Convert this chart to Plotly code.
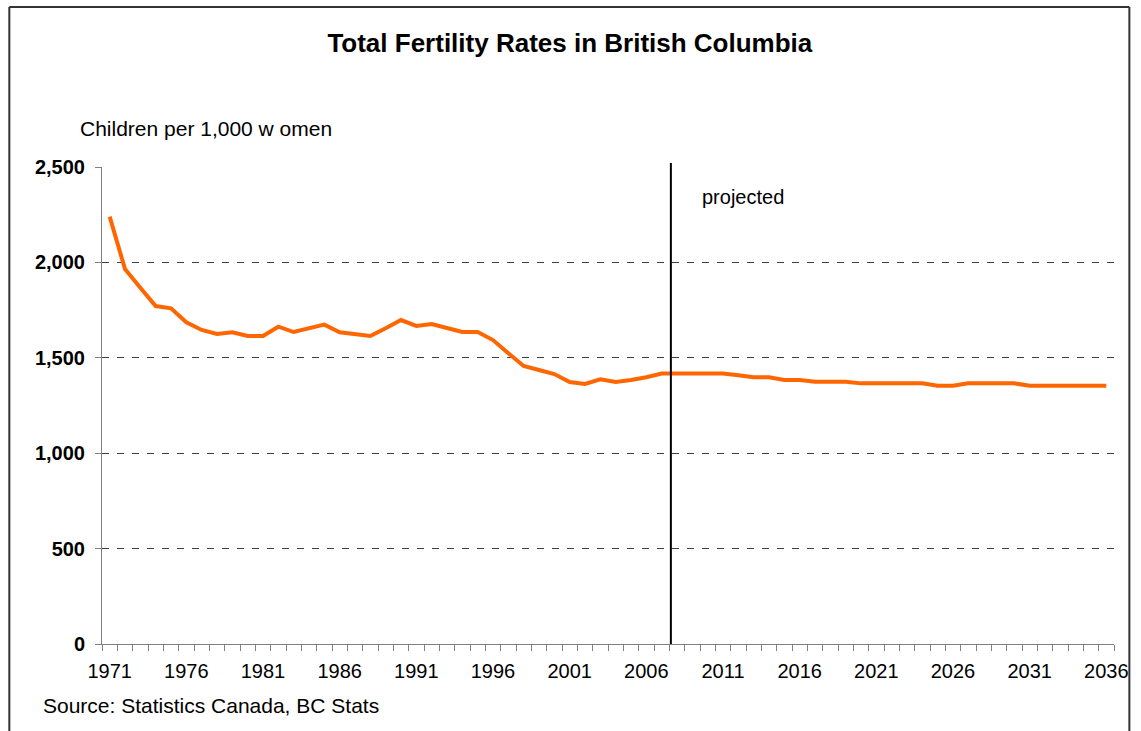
import plotly.graph_objects as go

years = list(range(1971, 2037))
fertility = [
    2240, 1965, 1867, 1771, 1759, 1686, 1646, 1625, 1634, 1614,
    1614, 1663, 1635, 1654, 1674, 1634, 1625, 1614, 1655, 1698,
    1667, 1677, 1656, 1635, 1635, 1593, 1524, 1457, 1436, 1415,
    1373, 1363, 1387, 1373, 1384, 1398, 1418, 1418, 1418, 1418,
    1418, 1408, 1398, 1398, 1384, 1384, 1375, 1375, 1375, 1366,
    1366, 1366, 1366, 1366, 1354, 1354, 1366, 1366, 1366, 1366,
    1354, 1354, 1354, 1354, 1354, 1354,
]
x_labels = [1971, 1976, 1981, 1986, 1991, 1996, 2001, 2006, 2011, 2016, 2021, 2026, 2031, 2036]
y_ticks = [0, 500, 1000, 1500, 2000, 2500]
projection_start = 2007.6

FONT = "Arial, Liberation Sans, sans-serif"

fig = go.Figure()
fig.add_trace(go.Scatter(
    x=years, y=fertility, mode="lines",
    line=dict(color="#FF6600", width=4),
    hoverinfo="x+y", showlegend=False,
))

boundaries = [y - 0.5 for y in years] + [years[-1] + 0.5]

L, T, W, H = 102, 167, 1021, 477
def px(xp):
    return (xp - L) / W
def py(yp):
    return (T + H - yp) / H

fig.update_layout(
    width=1141, height=731,
    margin=dict(l=102, r=18, t=167, b=87),
    paper_bgcolor="white", plot_bgcolor="white",
    font=dict(family=FONT, color="black"),
    title=dict(
        text="<b>Total Fertility Rates in British Columbia</b>",
        x=px(574), xref="paper", xanchor="center", y=1 - 43 / 731, yanchor="middle",
        font=dict(size=26, family=FONT, color="black"),
    ),
    xaxis=dict(
        range=[years[0] - 0.5, years[-1] + 0.5],
        tickvals=x_labels, ticktext=[str(v) for v in x_labels],
        ticks="", ticklen=0,
        minor=dict(tickvals=boundaries, ticks="outside", ticklen=6,
                   tickcolor="#808080", tickwidth=1, showgrid=False),
        showgrid=False, zeroline=False,
        showline=True, linecolor="#808080", linewidth=1,
        tickfont=dict(size=20, family=FONT, color="black"),
        ticklabelstandoff=9,
    ),
    yaxis=dict(
        range=[0, 2500],
        tickvals=y_ticks, tickformat=",",
        ticks="outside", ticklen=6, tickcolor="#808080",
        showgrid=True, gridcolor="#404040", gridwidth=1, griddash="7px,8px",
        zeroline=False,
        showline=True, linecolor="#808080", linewidth=1,
        tickfont=dict(size=20, family=FONT, color="black", weight="bold"),
        ticklabelstandoff=6,
    ),
    shapes=[
        dict(type="line", xref="x", yref="paper", x0=projection_start, x1=projection_start,
             y0=0, y1=py(163), line=dict(color="black", width=2)),
        dict(type="line", xref="paper", yref="paper", x0=px(8.5), x1=px(8.5),
             y0=py(7), y1=py(740), line=dict(color="#333333", width=2)),
        dict(type="line", xref="paper", yref="paper", x0=px(8.5), x1=px(1138.5),
             y0=py(7), y1=py(7), line=dict(color="#333333", width=2)),
        dict(type="line", xref="paper", yref="paper", x0=px(1138.5), x1=px(1138.5),
             y0=py(7), y1=py(740), line=dict(color="#333333", width=2)),
    ],
    annotations=[
        dict(text="Children per 1,000 w omen", xref="paper", yref="paper",
             x=px(78), y=py(128), xanchor="left", yanchor="middle",
             showarrow=False, font=dict(size=21, family=FONT, color="black")),
        dict(text="projected", xref="x", yref="y", x=2009.5, y=2343,
             xanchor="left", yanchor="middle",
             showarrow=False, font=dict(size=20, family=FONT, color="black")),
        dict(text="Source: Statistics Canada, BC Stats", xref="paper", yref="paper",
             x=px(40), y=py(705), xanchor="left", yanchor="middle",
             showarrow=False, font=dict(size=21, family=FONT, color="black")),
    ],
)

fig.write_html(
    "out.html",
    config={"displayModeBar": False},
    post_script="document.body.style.margin='0';document.body.style.overflow='hidden';",
)
